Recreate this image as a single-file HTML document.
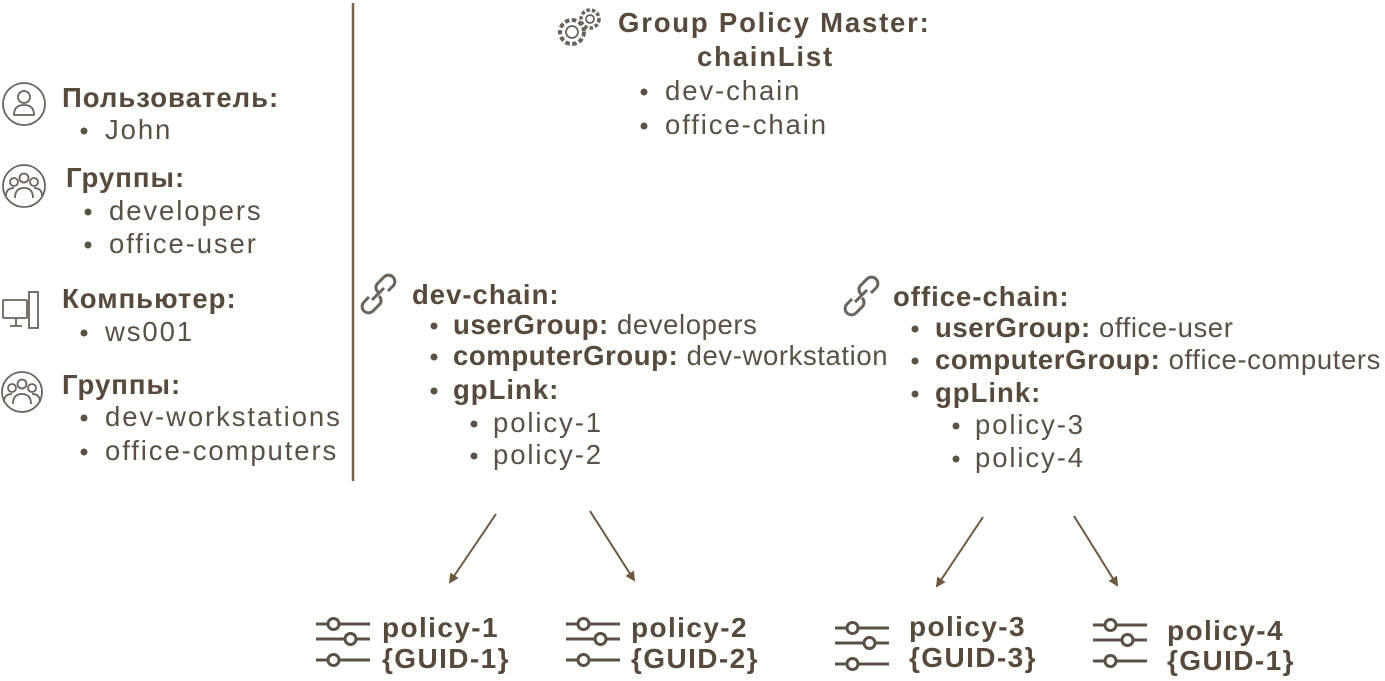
<!DOCTYPE html>
<html><head><meta charset="utf-8"><style>
body{margin:0;width:1385px;height:681px;background:#fff;position:relative;overflow:hidden;font-family:"Liberation Sans",sans-serif;color:#5a5046}
.t{position:absolute;white-space:nowrap;font-size:27.5px;line-height:34px;letter-spacing:1.9px;transform:translateY(-50%)}
.b{font-weight:bold;color:#574a3c;letter-spacing:1px}
.t b{letter-spacing:0.6px}
.m{letter-spacing:0.6px}
.p{font-size:28px;letter-spacing:1.4px}
.d{position:absolute;width:7px;height:7px;border-radius:50%;background:#5a5046;transform:translate(-50%,-50%)}
svg{position:absolute;left:0;top:0}
</style></head><body>
<svg width="1385" height="681">
<defs><marker id="a" markerWidth="10" markerHeight="10" refX="8" refY="5" orient="auto" markerUnits="userSpaceOnUse"><path d="M0,0 L10,5 L0,10 z" fill="#6e5840"/></marker></defs>
<line x1="353" y1="3" x2="353" y2="481" stroke="#7a6248" stroke-width="2.5"/>
<g stroke="#6e5840" stroke-width="2" marker-end="url(#a)">
<line x1="496" y1="514" x2="450" y2="582"/><line x1="590" y1="511" x2="634" y2="580"/>
<line x1="983" y1="517" x2="937" y2="586"/><line x1="1074" y1="516" x2="1117" y2="585"/>
</g>
<g fill="none" stroke="#6b635b" stroke-width="1.8">
<circle cx="24" cy="104" r="21"/><circle cx="24" cy="97" r="6"/><path d="M14,115 q0,-10 10,-10 q10,0 10,10 z"/>
<circle cx="24" cy="186" r="21"/><circle cx="24" cy="178" r="4.5"/><circle cx="14" cy="182" r="4"/><circle cx="34" cy="182" r="4"/><path d="M15,198 q0,-10 9,-10 q9,0 9,10 M6,196 q0,-8 8,-8 M42,196 q0,-8 -8,-8"/>
<circle cx="22" cy="392" r="20"/><circle cx="22" cy="384" r="4.5"/><circle cx="12" cy="388" r="4"/><circle cx="32" cy="388" r="4"/><path d="M13,404 q0,-10 9,-10 q9,0 9,10 M4,402 q0,-8 8,-8 M40,402 q0,-8 -8,-8"/>
<rect x="3" y="300" width="24" height="18" rx="1"/><path d="M10,326 h12 M16,318 v8"/><rect x="29" y="292" width="9" height="36"/>
<circle cx="572" cy="32" r="6"/><circle cx="572" cy="32" r="12" stroke-dasharray="4.5 2.5" stroke-width="4"/><circle cx="590" cy="19" r="4"/><circle cx="590" cy="19" r="9" stroke-dasharray="3.5 2" stroke-width="3.5"/>
<g stroke-width="3"><path d="M372,300 l12,-12 M378,292 a6,6 0 0 1 0,-9 l6,-6 a6,6 0 0 1 9,9 l-5,5 M379,296 a6,6 0 0 1 0,9 l-6,6 a6,6 0 0 1 -9,-9 l5,-5"/>
<path d="M855,302 l12,-12 M861,294 a6,6 0 0 1 0,-9 l6,-6 a6,6 0 0 1 9,9 l-5,5 M862,298 a6,6 0 0 1 0,9 l-6,6 a6,6 0 0 1 -9,-9 l5,-5"/></g>
</g>
<defs><g id="sl" fill="none" stroke="#5a5046" stroke-width="3"><path d="M0,6 h11 M24,6 h30 M0,21 h28 M41,21 h13 M0,42 h11 M24,42 h30"/><circle cx="17.5" cy="6" r="5.5"/><circle cx="34.5" cy="21" r="5.5"/><circle cx="17.5" cy="42" r="5.5"/></g></defs>
<use href="#sl" x="316" y="618"/>
<use href="#sl" x="566" y="618"/>
<use href="#sl" x="835" y="622"/>
<use href="#sl" x="1093" y="619"/>
</svg>

<div class="t b" style="left:62px;top:98px">Пользователь:</div>
<div class="d" style="left:84px;top:131px"></div><div class="t" style="left:105px;top:130px">John</div>
<div class="t b" style="left:66px;top:178px">Группы:</div>
<div class="d" style="left:88px;top:212px"></div><div class="t" style="left:109px;top:211px">developers</div>
<div class="d" style="left:88px;top:245px"></div><div class="t" style="left:109px;top:244px">office-user</div>
<div class="t b" style="left:62px;top:299px">Компьютер:</div>
<div class="d" style="left:84px;top:333px"></div><div class="t" style="left:105px;top:332px">ws001</div>
<div class="t b" style="left:62px;top:385px">Группы:</div>
<div class="d" style="left:84px;top:418px"></div><div class="t" style="left:105px;top:417px">dev-workstations</div>
<div class="d" style="left:84px;top:452px"></div><div class="t" style="left:105px;top:451px">office-computers</div>

<div class="t b" style="left:618px;top:23px;letter-spacing:1.8px">Group Policy Master:</div>
<div class="t b" style="left:697px;top:57px;letter-spacing:1.8px">chainList</div>
<div class="d" style="left:644px;top:92px"></div><div class="t" style="left:665px;top:91px">dev-chain</div>
<div class="d" style="left:644px;top:126px"></div><div class="t" style="left:665px;top:125px">office-chain</div>

<div class="t b" style="left:412px;top:295px">dev-chain:</div>
<div class="d" style="left:434px;top:326px"></div><div class="t m" style="left:453px;top:325px"><b style="color:#574a3c">userGroup:</b> developers</div>
<div class="d" style="left:434px;top:357px"></div><div class="t m" style="left:453px;top:356px"><b style="color:#574a3c">computerGroup:</b> dev-workstation</div>
<div class="d" style="left:434px;top:391px"></div><div class="t b" style="left:453px;top:390px">gpLink:</div>
<div class="d" style="left:474px;top:424px"></div><div class="t" style="left:493px;top:423px">policy-1</div>
<div class="d" style="left:474px;top:456px"></div><div class="t" style="left:493px;top:455px">policy-2</div>

<div class="t b" style="left:893px;top:297px">office-chain:</div>
<div class="d" style="left:915px;top:329px"></div><div class="t m" style="left:935px;top:328px"><b style="color:#574a3c">userGroup:</b> office-user</div>
<div class="d" style="left:915px;top:361px"></div><div class="t m" style="left:935px;top:360px"><b style="color:#574a3c">computerGroup:</b> office-computers</div>
<div class="d" style="left:915px;top:394px"></div><div class="t b" style="left:935px;top:393px">gpLink:</div>
<div class="d" style="left:956px;top:426px"></div><div class="t" style="left:975px;top:425px">policy-3</div>
<div class="d" style="left:956px;top:459px"></div><div class="t" style="left:975px;top:458px">policy-4</div>

<div class="t b p" style="left:382px;top:628px">policy-1</div>
<div class="t b p" style="left:382px;top:659px">{GUID-1}</div>
<div class="t b p" style="left:631px;top:628px">policy-2</div>
<div class="t b p" style="left:631px;top:659px">{GUID-2}</div>
<div class="t b p" style="left:909px;top:627px">policy-3</div>
<div class="t b p" style="left:909px;top:658px">{GUID-3}</div>
<div class="t b p" style="left:1167px;top:631px">policy-4</div>
<div class="t b p" style="left:1167px;top:661px">{GUID-1}</div>
</body></html>
